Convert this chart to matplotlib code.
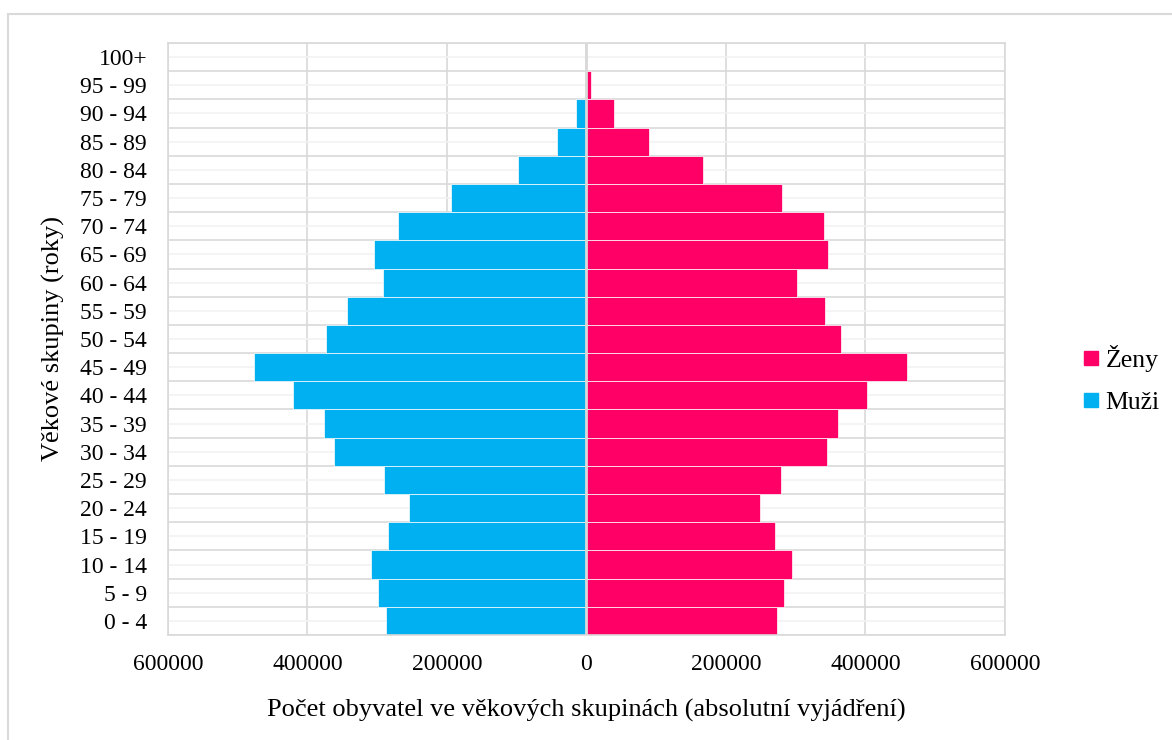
import matplotlib.pyplot as plt
import numpy as np
from matplotlib.lines import Line2D
from matplotlib.patches import Rectangle

# data (od 0-4 nahoru)
skupiny = ['0 - 4', '5 - 9', '10 - 14', '15 - 19', '20 - 24', '25 - 29', '30 - 34',
           '35 - 39', '40 - 44', '45 - 49', '50 - 54', '55 - 59', '60 - 64', '65 - 69',
           '70 - 74', '75 - 79', '80 - 84', '85 - 89', '90 - 94', '95 - 99', '100+']
muzi = [287300, 298300, 308300, 284900, 254800, 290200, 361800, 376500, 420500, 476800,
        373700, 343600, 291600, 305000, 269600, 194300, 98800, 42500, 14300, 2000, 300]
zeny = [273500, 283500, 294000, 270100, 248100, 278200, 344600, 360800, 402300, 460000,
        364600, 342200, 302500, 346000, 340700, 280000, 167000, 89700, 39100, 6700, 800]
x_ticks = [-600000, -400000, -200000, 0, 200000, 400000, 600000]

plt.rcParams['font.family'] = ['Liberation Serif', 'DejaVu Serif']

fig = plt.figure(figsize=(11.72, 7.40), dpi=100)
ax = fig.add_axes([0.1433, 0.1419, 0.7142, 0.8000])

y = np.arange(len(skupiny))
ax.barh(y, [-v for v in muzi], height=1.0, color='#00B0F0', edgecolor='white', linewidth=0.5, zorder=2)
ax.barh(y, zeny, height=1.0, color='#FF0066', edgecolor='white', linewidth=0.5, zorder=2)
ax.axvline(0, color='#d9d9d9', linewidth=2, zorder=3)

ax.set_xlim(-600000, 600000)
ax.set_ylim(-0.5, len(skupiny) - 0.5)
ax.set_xticks(x_ticks)
ax.set_xticklabels([str(abs(v)) for v in x_ticks])
ax.set_yticks(y)
ax.set_yticklabels(skupiny)
ax.set_yticks(np.arange(-0.5, len(skupiny), 1), minor=True)
ax.set_axisbelow(True)
ax.grid(which='major', axis='x', color='#d9d9d9', linewidth=1.2)
ax.grid(which='major', axis='y', color='#f2f2f2', linewidth=1.2)
ax.grid(which='minor', axis='y', color='#d9d9d9', linewidth=1.2)
ax.tick_params(which='both', length=0, labelsize=17, colors='black')
ax.tick_params(axis='y', pad=15)
ax.tick_params(axis='x', pad=14)
for s in ax.spines.values():
    s.set_color('#d9d9d9')
    s.set_linewidth(1.2)

ax.set_xlabel('Počet obyvatel ve věkových skupinách (absolutní vyjádření)', fontsize=19, labelpad=17)
ax.set_ylabel('Věkové skupiny (roky)', fontsize=19, labelpad=11)

handles = [Line2D([], [], marker='s', linestyle='', color='#FF0066', markersize=9.5),
           Line2D([], [], marker='s', linestyle='', color='#00B0F0', markersize=9.5)]
fig.legend(handles, ['Ženy', 'Muži'], loc='center left', bbox_to_anchor=(0.905, 0.487),
           frameon=False, fontsize=18.5, handlelength=0.6, handletextpad=0.25, labelspacing=0.75)

# okraj grafu
fig.patches.append(Rectangle((8 / 1172, -0.1), 1.2, 1 - 14 / 740 + 0.1, transform=fig.transFigure,
                             fill=False, edgecolor='#d9d9d9', linewidth=1.5))

fig.savefig('out.png', dpi=100)
